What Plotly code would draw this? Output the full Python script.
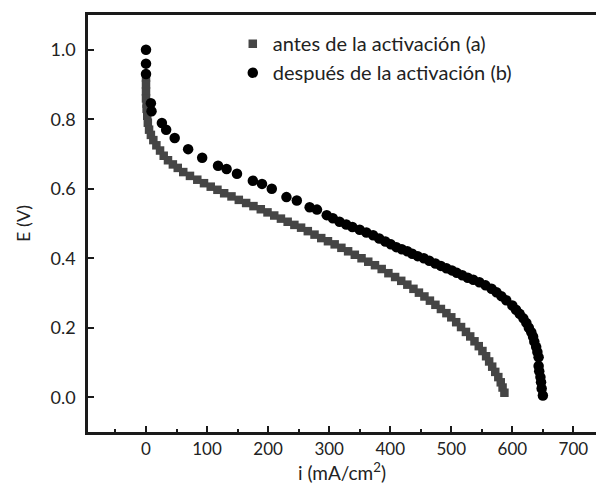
import plotly.graph_objects as go

# Series (a): antes de la activación  (i in mA/cm2, E in V)
a_i = [0, 0, 0, 0, 1, 1, 2, 3, 5, 8, 12, 17, 23, 29, 36, 44, 52, 61, 72, 84,
       95, 106, 117, 128, 140, 152, 164, 176, 188, 199, 210, 221, 232, 243, 254,
       265, 276, 287, 298, 309, 320, 331, 342, 353, 364, 375, 386, 397, 408, 418,
       428, 438, 447, 456, 465, 474, 483, 492, 500, 508, 516, 524, 531, 538, 545,
       551, 557, 562, 567, 572, 577, 581, 584, 587]
a_E = [0.92, 0.90, 0.88, 0.86, 0.845, 0.83, 0.81, 0.79, 0.77, 0.755, 0.74, 0.725,
       0.71, 0.695, 0.682, 0.67, 0.66, 0.648, 0.637, 0.626, 0.616, 0.606, 0.597,
       0.587, 0.578, 0.568, 0.559, 0.55, 0.541, 0.532, 0.523, 0.514, 0.505, 0.496,
       0.488, 0.478, 0.468, 0.458, 0.449, 0.44, 0.43, 0.42, 0.41, 0.4, 0.39, 0.38,
       0.369, 0.357, 0.346, 0.335, 0.324, 0.312, 0.301, 0.29, 0.278, 0.266, 0.254,
       0.242, 0.23, 0.216, 0.202, 0.188, 0.175, 0.161, 0.147, 0.133, 0.118, 0.103,
       0.088, 0.073, 0.058, 0.043, 0.028, 0.013]

# Series (b): después de la activación
b_i = [0, 0, 0, 8, 9, 26, 33, 47, 69, 92, 118, 132, 149, 175, 190, 206, 230, 247,
       268, 280, 296, 306, 317, 328, 338, 350, 361, 372, 382, 392, 401, 410, 419,
       428, 436, 445, 455, 464, 474, 483, 492, 501, 509, 518, 527, 536, 546, 556,
       566, 574, 582, 590, 600, 606, 612, 618, 623, 627, 631, 634, 636, 639, 641,
       643, 643, 644, 646, 647, 648, 650]
b_E = [1.0, 0.96, 0.93, 0.846, 0.823, 0.789, 0.77, 0.746, 0.714, 0.689, 0.666,
       0.657, 0.643, 0.623, 0.614, 0.60, 0.576, 0.566, 0.547, 0.54, 0.524, 0.515,
       0.505, 0.497, 0.49, 0.482, 0.474, 0.466, 0.457, 0.448, 0.44, 0.432, 0.426,
       0.42, 0.413, 0.406, 0.4, 0.393, 0.385, 0.378, 0.371, 0.365, 0.358, 0.351,
       0.344, 0.338, 0.331, 0.322, 0.312, 0.302, 0.291, 0.279, 0.264, 0.252, 0.24,
       0.227, 0.214, 0.2, 0.187, 0.174, 0.16, 0.145, 0.13, 0.115, 0.09, 0.075,
       0.058, 0.043, 0.025, 0.005]

x_ticks = [0, 100, 200, 300, 400, 500, 600, 700]
y_ticks = [0.0, 0.2, 0.4, 0.6, 0.8, 1.0]

FONT = "Lato"
AX = "#1a1a1a"

fig = go.Figure()
fig.add_trace(go.Scatter(
    x=a_i, y=a_E, mode="markers", name="antes de la activación (a)",
    marker=dict(symbol="square", size=8.5, color="#454545", line=dict(width=0))))
fig.add_trace(go.Scatter(
    x=b_i, y=b_E, mode="markers", name="después de la activación (b)",
    marker=dict(symbol="circle", size=10.5, color="#000000", line=dict(width=0))))

fig.update_layout(
    width=596, height=486,
    margin=dict(l=88, r=0, t=15, b=54),
    paper_bgcolor="white", plot_bgcolor="white",
    font=dict(family=FONT, size=17, color="#222222"),
    showlegend=True,
    legend=dict(x=0.285, y=0.978, xanchor="left", yanchor="top",
                bgcolor="rgba(0,0,0,0)", font=dict(size=20, family=FONT),
                itemwidth=30, tracegroupgap=0, itemsizing="trace"),
    xaxis=dict(
        range=[-95, 737], tickvals=x_ticks, ticktext=[str(v) for v in x_ticks],
        ticks="inside", ticklen=6, tickwidth=2, tickcolor=AX,
        minor=dict(tickvals=[-50, 50, 150, 250, 350, 450, 550, 650],
                   ticks="inside", ticklen=3, tickwidth=2, tickcolor=AX),
        showline=True, linewidth=2.5, linecolor=AX, mirror=True,
        showgrid=False, zeroline=False,
        title=dict(text="i (mA/cm<sup>2</sup>)", font=dict(size=19, family=FONT), standoff=0),
        tickfont=dict(size=17, family=FONT),
    ),
    yaxis=dict(
        range=[-0.1, 1.1], tickvals=y_ticks, ticktext=["0.0", "0.2", "0.4", "0.6", "0.8", "1.0"],
        ticks="inside", ticklen=6, tickwidth=2, tickcolor=AX,
        showline=True, linewidth=2.5, linecolor=AX, mirror=False,
        showgrid=False, zeroline=False,
        ticklabelstandoff=6,
        title=dict(text="E (V)", font=dict(size=18, family=FONT), standoff=16),
        tickfont=dict(size=18, family=FONT),
    ),
)

fig.write_html("out.html")
